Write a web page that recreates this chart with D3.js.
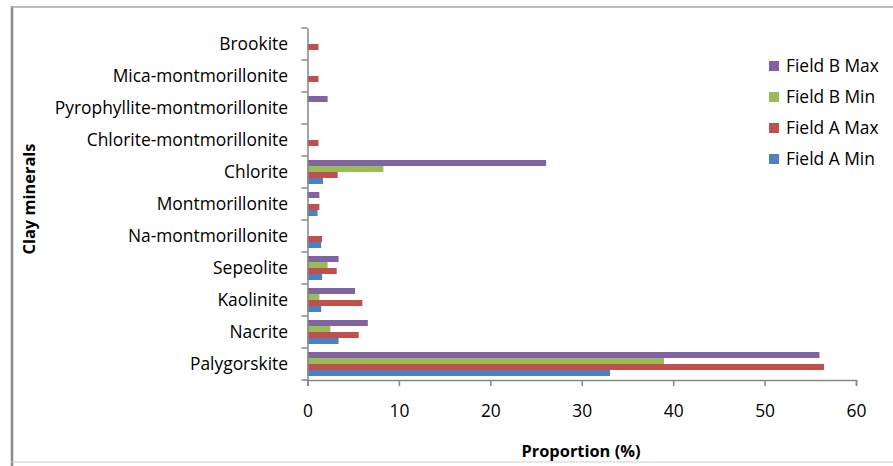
<!DOCTYPE html>
<html>
<head>
<meta charset="utf-8">
<script src="https://cdn.jsdelivr.net/npm/d3@7"></script>
<style>
  html, body { margin: 0; padding: 0; background: #fff; }
  svg { display: block; }
  text { font-family: "Open Sans", "Noto Sans", sans-serif; fill: #000; }
</style>
</head>
<body>
<svg id="chart" width="893" height="466"></svg>
<script>
const categories = ["Brookite", "Mica-montmorillonite", "Pyrophyllite-montmorillonite",
  "Chlorite-montmorillonite", "Chlorite", "Montmorillonite", "Na-montmorillonite",
  "Sepeolite", "Kaolinite", "Nacrite", "Palygorskite"];
const seriesNames = ["Field B Max", "Field B Min", "Field A Max", "Field A Min"];
const fieldBMax = [0, 0, 2.2, 0, 26.1, 1.3, 0, 3.4, 5.2, 6.6, 56.0];
const fieldBMin = [0, 0, 0, 0, 8.3, 0, 0, 2.2, 1.3, 2.5, 39.0];
const fieldAMax = [1.2, 1.2, 0, 1.2, 3.3, 1.3, 1.6, 3.2, 6.0, 5.6, 56.5];
const fieldAMin = [0, 0, 0, 0, 1.7, 1.1, 1.5, 1.6, 1.5, 3.4, 33.1];
const xTicks = [0, 10, 20, 30, 40, 50, 60];
const colors = ["#8064A2", "#9BBB59", "#C0504D", "#4F81BD"];

const seriesValues = [fieldBMax, fieldBMin, fieldAMax, fieldAMin];

const svg = d3.select("#chart");
const W = 893, H = 466;
const plot = { left: 307.5, right: 856, top: 28, bottom: 380 };
const FS = "17.4px";

// outer frame
svg.append("line").attr("x1", 12).attr("x2", 12).attr("y1", 6).attr("y2", 466)
  .attr("stroke", "#8a8a8a").attr("stroke-width", 2.5);
svg.append("line").attr("x1", 11).attr("x2", W).attr("y1", 7).attr("y2", 7)
  .attr("stroke", "#a6a6a6").attr("stroke-width", 1.5);
svg.append("line").attr("x1", 11).attr("x2", W).attr("y1", 462).attr("y2", 462)
  .attr("stroke", "#d0d0d0").attr("stroke-width", 1.2);

const x = d3.scaleLinear().domain([0, 60]).range([plot.left, plot.right]);
const y = d3.scaleBand().domain(categories).range([plot.top, plot.bottom]).padding(0);
const inner = d3.scaleBand().domain(seriesNames)
  .range([y.bandwidth() * 0.125, y.bandwidth() * 0.875]).padding(0);

// bars
const g = svg.append("g");
seriesNames.forEach((s, si) => {
  g.selectAll(null)
    .data(categories.map((c, i) => ({ c, v: seriesValues[si][i] })).filter(d => d.v > 0))
    .enter().append("rect")
    .attr("x", x(0))
    .attr("y", d => y(d.c) + inner(s))
    .attr("width", d => x(d.v) - x(0))
    .attr("height", inner.bandwidth())
    .attr("fill", colors[si]);
});

// x axis
const xAxis = d3.axisBottom(x).tickValues(xTicks).tickSize(6).tickPadding(19).tickFormat(d3.format("d"));
const gx = svg.append("g").attr("transform", `translate(0,${plot.bottom})`).call(xAxis);
gx.select(".domain").attr("stroke", "#868686").attr("stroke-width", 1.5);
gx.selectAll(".tick line").attr("stroke", "#868686").attr("stroke-width", 1.5);
gx.selectAll(".tick text").style("font-size", FS).style("font-family", "'Open Sans', sans-serif").attr("fill", "#000");

// y axis (labels)
const yAxis = d3.axisLeft(y).tickSize(0).tickPadding(19.5);
const gy = svg.append("g").attr("transform", `translate(${plot.left},0)`).call(yAxis);
gy.select(".domain").attr("stroke", "#868686").attr("stroke-width", 1.5);
gy.selectAll(".tick text").style("font-size", FS).style("font-family", "'Open Sans', sans-serif").attr("fill", "#000");

// boundary ticks on y axis
const bounds = categories.map(c => y(c)).concat([plot.bottom]);
svg.append("g").selectAll("line").data(bounds).enter().append("line")
  .attr("x1", plot.left - 6).attr("x2", plot.left)
  .attr("y1", d => d).attr("y2", d => d)
  .attr("stroke", "#868686").attr("stroke-width", 1.5);

// axis titles
svg.append("text").attr("x", 581).attr("y", 451).attr("dy", "0.35em")
  .attr("text-anchor", "middle").style("font-size", "16.4px").style("font-weight", "bold")
  .text("Proportion (%)");
svg.append("text").attr("transform", "translate(29,199) rotate(-90)").attr("dy", "0.35em")
  .attr("text-anchor", "middle").style("font-size", "16.4px").style("font-weight", "bold")
  .text("Clay minerals");

// legend
const legend = svg.append("g");
seriesNames.forEach((s, i) => {
  const cy = 66 + i * 31;
  legend.append("rect").attr("x", 769).attr("y", cy - 5).attr("width", 10).attr("height", 10)
    .attr("fill", colors[i]);
  legend.append("text").attr("x", 786).attr("y", cy).attr("dy", "0.35em")
    .style("font-size", FS).text(s);
});
</script>
</body>
</html>
